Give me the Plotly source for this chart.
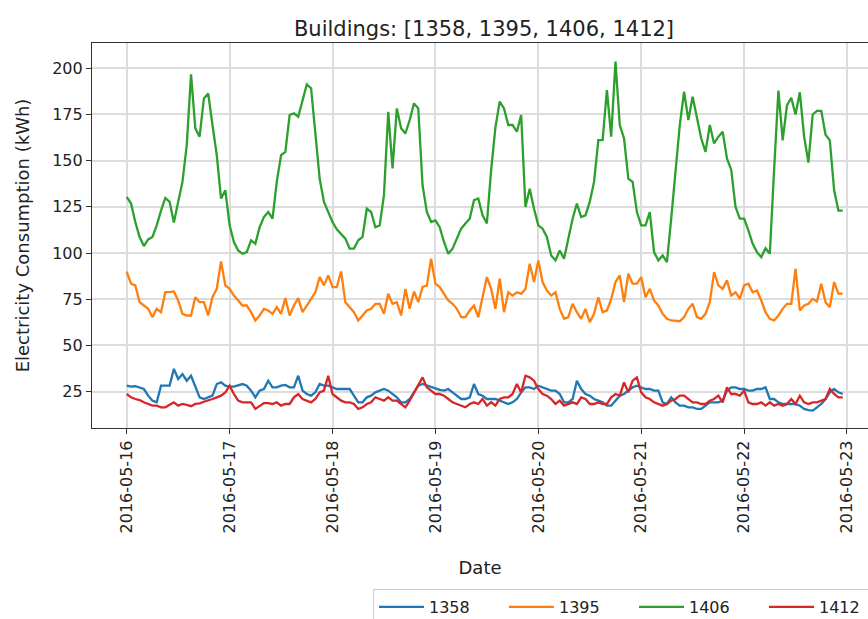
import pandas as pd
import plotly.graph_objects as go

start_date = "2016-05-16 00:00"
n_hours = 168

b1358 = [28.2, 27.7, 27.9, 27.3, 26.4, 22.8, 20.1, 19.2, 28.2, 28.2, 28.2, 37.3, 31.8, 34.5, 30.9, 33.6, 28.2, 21.9, 21, 21.9, 22.8, 29.1, 30, 28.2, 27.7, 27.7, 28.2, 29.1,
         28.2, 25.5, 21.9, 25.5, 26.4, 30.9, 27.3, 27.3, 28.2, 28.6, 27.3, 27.3, 33.6, 25.5, 23.7, 22.8, 24.6, 29.1, 28.2, 28.2, 27.3, 26.4, 26.4, 26.4, 26.4, 22.8, 19.2, 19.2, 21.9,
         22.8, 24.6, 25.5, 26.4, 25.5, 23.7, 21.9, 19.2, 19.2, 21, 24.6, 28.2, 29.1, 28.2, 27.3, 26.4, 25.9, 25.5, 26.4, 24.6, 22.8, 21, 21, 21.9, 29.1, 23.7, 22.8, 21,
         21, 21, 20.1, 19.2, 18.3, 19.2, 21, 24.6, 27.3, 27.3, 26.4, 28.2, 27.3, 26.4, 25.5, 25.5, 23.7, 19.2, 19.2, 21, 30.9, 26.4, 23.7, 22.8, 21, 20.1, 19.2, 17.4, 17.4,
         20.1, 22.8, 23.7, 25.5, 27.3, 28.2, 27.3, 26.4, 26.4, 25.5, 25.5, 19.2, 18.3, 21.9, 19.2, 17.4, 17.4, 16.5, 16.5, 15.6, 15.6, 17.4, 19.2, 19.2, 19.2, 20.1, 25.5, 27.3,
         27.3, 26.4, 26.4, 25.5, 25.5, 26.4, 26.4, 27.3, 21, 21, 19.2, 18.3, 18.3, 18.3, 18.3, 17.4, 15.6, 15, 14.7, 16.5, 18.3, 21, 24.6, 26.4, 24.6, 23.7]

b1395 = [90, 83.4, 82.5, 73.4, 71.6, 69.8, 65.3, 69.8, 68, 78.8, 78.8, 79.2, 74.3, 67.1, 66.2, 66.2, 76.1, 73.4, 73.4, 66.2, 76.1, 80.6, 95.5, 82.5,
         80.6, 77, 74.3, 71.6, 71.6, 68, 63.5, 66.2, 69.8, 68.9, 67.1, 70.7, 67.1, 75.6, 66.2, 71.6, 75.6, 68, 71.6, 75.2, 78.8, 87, 82.5, 87.9,
         81.6, 81.6, 90, 73.4, 70.7, 68, 63.5, 66.2, 68.9, 69.8, 72.5, 72.5, 67.1, 78, 72.5, 73.4, 66.2, 80.6, 69.8, 79.2, 73.4, 81.6, 82.5, 96.9,
         83.4, 81.6, 78, 74.3, 72.5, 69.8, 65.3, 65.3, 68.9, 71.6, 65.3, 76.1, 87, 80.6, 69.8, 86.1, 68, 78.8, 77, 78.8, 77.9, 80.6, 94.2, 84.3,
         96, 84.3, 79.7, 77, 78.8, 69.8, 64.4, 65.3, 72.5, 68, 64.4, 69.8, 62.6, 67.1, 76.1, 68, 68.9, 75, 84.3, 87.9, 73.4, 88.8, 83.4, 83.4,
         87, 76.1, 80.6, 74.3, 71.6, 67.1, 64.4, 63.5, 63.1, 63.1, 65.3, 69.8, 72.5, 65.3, 64.4, 67.1, 73.4, 89.7, 82.5, 80.6, 85.2, 77, 78.8, 75.2,
         82.5, 83.4, 78.8, 79.7, 74.3, 68, 64.4, 63.5, 66.2, 69.8, 72.5, 72.5, 91.5, 68.9, 71.6, 72.5, 75.2, 73.8, 83.4, 73.4, 70.7, 84.3, 78, 78]

b1406 = [130.4, 126.8, 116.8, 108.7, 103.8, 107.4, 108.7, 115, 123, 129.8, 127.7, 116.5, 127.7, 138.5, 158.4, 196.7, 167.5, 163, 183.7, 186.4, 169.3, 153, 129.5, 134,
         115, 106, 101.4, 99.6, 100.5, 106.9, 105, 114, 119.5, 122.2, 118.6, 138.5, 153, 154.8, 174.7, 175.6, 173.8, 181.9, 191.3, 189.2, 165.7, 140.3, 127.7, 122.2,
         116.8, 112.8, 110.5, 107.8, 102.4, 102.4, 106.9, 108.7, 124, 122.2, 114, 115, 131.3, 176.5, 145.8, 178.3, 167.5, 164.7, 172, 181, 178.3, 136.7, 122.2, 116.8,
         117.7, 114, 106, 99.6, 102.4, 107.8, 113.2, 116, 118.6, 128.6, 129.5, 120.4, 116, 145, 168, 182, 178.3, 169.3, 169.3, 165.7, 174.7, 125, 134.8, 124,
         115, 113.2, 108.7, 98.7, 96, 101.4, 96.9, 107.8, 118.6, 126.8, 119.5, 120.4, 127.7, 138.5, 161.1, 161.1, 188.2, 163, 203.6, 169.3, 162, 140.3, 138.5, 122.2,
         115, 115, 122.2, 100.5, 96, 98.7, 95.1, 118.6, 145.8, 169.3, 187.3, 172, 184.6, 172.9, 162, 154.8, 169.3, 159.3, 163, 165.7, 151.2, 145, 125, 118.6,
         118.6, 112.3, 105, 100.5, 97.8, 102.6, 99.6, 145, 188, 161, 180, 184, 175, 187, 163, 149, 175, 177, 177, 164, 161, 134, 123, 123]

b1412 = [23.7, 21.9, 21, 20.4, 19.2, 18.3, 17.4, 17.4, 16.5, 16.5, 17.8, 19.2, 17.4, 18.3, 17.8, 17.1, 18.3, 18.6, 19.5, 20.1, 21, 21.9, 22.8, 24.6, 28.2, 23.7, 20.1, 19.2,
         19.2, 19.2, 15.6, 17.4, 18.8, 18.8, 18.3, 19.2, 17.4, 18.3, 18.3, 21.9, 23.7, 21, 20.1, 19.2, 21, 24.6, 25.5, 33.6, 23.7, 21.9, 20.1, 19.2, 19.2, 18.3, 15.6, 16.5, 18.3,
         19.2, 21.9, 21, 20.1, 21.9, 20.1, 20.1, 18.3, 16.5, 20.1, 24.6, 28.2, 32.7, 27.3, 25.5, 23.7, 23.7, 22.8, 21, 19.2, 18.3, 17.4, 16.5, 18.3, 19.2, 18.3, 21, 17.4,
         19.2, 17.4, 21, 21.9, 21.9, 23.7, 29.1, 24.6, 33.6, 32.7, 30.9, 26.4, 23.7, 22.8, 21, 18.3, 20.1, 17.4, 18.3, 19.2, 18.3, 21.9, 21, 18.3, 18.3, 19.2, 18.3, 18.3, 21.9,
         23.7, 22.8, 30, 24.6, 30.9, 32.7, 24.6, 21.9, 21, 19.2, 18.3, 17.4, 18.3, 20.1, 21, 22.8, 22.8, 21, 19.2, 19.2, 18.3, 18.3, 20.1, 21, 22.8, 19.2, 27.3, 23.7,
         23.7, 22.8, 25.5, 19.2, 18.3, 18.3, 19.2, 17.4, 19.2, 17.4, 18.3, 17.4, 18.3, 21, 18.3, 22.8, 19.2, 18.3, 19.2, 19.2, 20.1, 21, 26.4, 23.7, 21.9, 21.9]

buildings = ["1358", "1395", "1406", "1412"]
series = [b1358, b1395, b1406, b1412]
colors = ["#1f77b4", "#ff7f0e", "#2ca02c", "#d62728"]
y_ticks = [25, 50, 75, 100, 125, 150, 175, 200]
title_text = "Buildings: [1358, 1395, 1406, 1412]"

dates = pd.date_range(start_date, periods=n_hours, freq="h")

fig = go.Figure()
for name, vals, col in zip(buildings, series, colors):
    fig.add_trace(go.Scatter(x=dates, y=vals, mode="lines", name=name,
                             line=dict(color=col, width=2.3)))

font_family = "DejaVu Sans"
fig.update_layout(
    width=868, height=619,
    margin=dict(l=92, r=0, t=43, b=191, autoexpand=False),
    paper_bgcolor="white", plot_bgcolor="white",
    font=dict(family=font_family, size=16, color="#222222"),
    title=dict(text=title_text, x=484/868, xref="container", xanchor="center",
               y=1 - 29/619, yref="container", yanchor="middle",
               font=dict(size=21, color="#222222")),
    showlegend=True,
    legend=dict(orientation="h", x=(373-92)/776, xanchor="left",
                y=(428-589)/385, yanchor="top",
                bordercolor="#cccccc", borderwidth=1, bgcolor="white",
                font=dict(size=16), itemwidth=45,
                entrywidth=70, entrywidthmode="pixels",
                traceorder="normal"),
)
fig.update_xaxes(
    range=["2016-05-15 15:54", "2016-05-23 04:54"],
    tick0="2016-05-16", dtick=86400000, tickformat="%Y-%m-%d",
    tickangle=-90, ticks="outside", ticklen=5, tickcolor="#333333",
    showgrid=True, gridcolor="#dcdcdc", gridwidth=1.5,
    showline=True, linecolor="#333333", linewidth=1.2, mirror=True,
    title=dict(text="Date", standoff=28, font=dict(size=18)), zeroline=False,
    tickfont=dict(size=16), automargin=False,
)
fig.update_yaxes(
    range=[5.3, 213.7], tickvals=y_ticks,
    ticks="outside", ticklen=5, tickcolor="#333333",
    showgrid=True, gridcolor="#dcdcdc", gridwidth=1.5,
    showline=True, linecolor="#333333", linewidth=1.2, mirror=False,
    title=dict(text="Electricity Consumption (kWh)", standoff=17, font=dict(size=18)),
    zeroline=False, tickfont=dict(size=16), automargin=False,
)

fig.write_html("out.html", config={"displayModeBar": False},
               post_script="document.body.style.margin='0px';document.body.style.padding='0px';")
